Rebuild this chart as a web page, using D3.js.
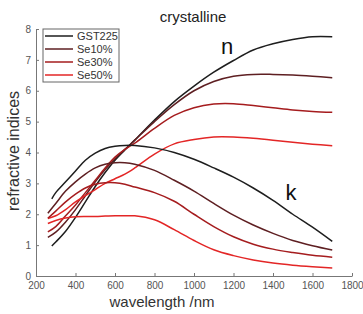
<!DOCTYPE html>
<html>
<head>
<meta charset="utf-8">
<script src="https://cdn.jsdelivr.net/npm/d3@7"></script>
<style>
  body { margin: 0; background: #fff; }
  svg { font-family: "Liberation Sans", Arial, sans-serif; }
</style>
</head>
<body>
<svg width="363" height="314"></svg>
<script>
// series names and colours
var series = ["GST225", "Se10%", "Se30%", "Se50%"];
var colors = ["#1e1e1e", "#5e1f22", "#a51c1e", "#e32626"];

// wavelength grids (nm)
var wl_gst = [280, 300, 350, 400, 450, 500, 550, 600, 650, 700, 800, 900, 1000, 1100, 1200, 1300, 1400, 1500, 1600, 1700];
var wl_se  = [260, 300, 350, 400, 450, 500, 550, 600, 650, 700, 800, 900, 1000, 1100, 1200, 1300, 1400, 1500, 1600, 1700];

// refractive index n
var n_gst  = [0.97, 1.1, 1.45, 1.9, 2.4, 2.9, 3.35, 3.75, 4.08, 4.4, 5.05, 5.65, 6.15, 6.6, 6.98, 7.32, 7.52, 7.66, 7.75, 7.75];
var n_se10 = [1.25, 1.42, 1.75, 2.15, 2.6, 3.05, 3.45, 3.8, 4.1, 4.4, 5.0, 5.55, 6.0, 6.3, 6.47, 6.53, 6.53, 6.51, 6.47, 6.42];
var n_se30 = [1.43, 1.6, 1.95, 2.3, 2.7, 3.1, 3.5, 3.85, 4.1, 4.3, 4.78, 5.2, 5.45, 5.57, 5.58, 5.52, 5.45, 5.38, 5.33, 5.3];
var n_se50 = [1.86, 1.95, 2.15, 2.4, 2.6, 2.8, 3.0, 3.15, 3.3, 3.5, 3.95, 4.28, 4.42, 4.5, 4.5, 4.46, 4.4, 4.33, 4.27, 4.22];

// extinction coefficient k
var k_gst  = [2.5, 2.7, 3.05, 3.4, 3.75, 3.98, 4.13, 4.2, 4.23, 4.23, 4.15, 4.0, 3.78, 3.5, 3.2, 2.85, 2.45, 2.0, 1.58, 1.12];
var k_se10 = [2.03, 2.35, 2.75, 3.05, 3.3, 3.5, 3.62, 3.67, 3.67, 3.62, 3.42, 3.1, 2.75, 2.35, 1.97, 1.65, 1.38, 1.15, 0.98, 0.84];
var k_se30 = [1.87, 2.1, 2.4, 2.65, 2.85, 2.97, 3.02, 3.02, 2.97, 2.88, 2.7, 2.42, 2.0, 1.6, 1.27, 1.03, 0.87, 0.76, 0.67, 0.61];
var k_se50 = [1.7, 1.8, 1.88, 1.92, 1.93, 1.93, 1.94, 1.95, 1.95, 1.95, 1.82, 1.5, 1.15, 0.85, 0.66, 0.52, 0.42, 0.35, 0.3, 0.26];

var x_ticks = [200, 400, 600, 800, 1000, 1200, 1400, 1600, 1800];
var y_ticks = [0, 1, 2, 3, 4, 5, 6, 7, 8];

var svg = d3.select("svg");
var x = d3.scaleLinear().domain([200, 1800]).range([36, 352]);
var y = d3.scaleLinear().domain([0, 8]).range([276, 29]);

var curves = [
  {wl: wl_gst, v: n_gst, c: 0}, {wl: wl_se, v: n_se10, c: 1},
  {wl: wl_se, v: n_se30, c: 2}, {wl: wl_se, v: n_se50, c: 3},
  {wl: wl_gst, v: k_gst, c: 0}, {wl: wl_se, v: k_se10, c: 1},
  {wl: wl_se, v: k_se30, c: 2}, {wl: wl_se, v: k_se50, c: 3}
];

var line = d3.line()
  .x(d => x(d[0]))
  .y(d => y(d[1]))
  .curve(d3.curveCatmullRom.alpha(0.5));

svg.selectAll("path.curve")
  .data(curves)
  .enter().append("path")
  .attr("class", "curve")
  .attr("fill", "none")
  .attr("stroke", d => colors[d.c])
  .attr("stroke-width", 1.5)
  .attr("d", d => line(d.wl.map((w, i) => [w, d.v[i]])));

// axes, ticks pointing inward
var xAxis = svg.append("g")
  .attr("transform", "translate(0," + y(0) + ")")
  .call(d3.axisBottom(x).tickValues(x_ticks).tickFormat(d3.format("d"))
    .tickSizeInner(-3).tickSizeOuter(0).tickPadding(6));
var yAxis = svg.append("g")
  .attr("transform", "translate(" + x(200) + ",0)")
  .call(d3.axisLeft(y).tickValues(y_ticks).tickFormat(d3.format("d"))
    .tickSizeInner(-3).tickSizeOuter(0).tickPadding(5));

[xAxis, yAxis].forEach(function(a) {
  a.select(".domain").attr("stroke", "#777").attr("stroke-width", 1);
  a.selectAll(".tick line").attr("stroke", "#777");
  a.selectAll(".tick text").attr("fill", "#555").style("font-size", "10px")
    .style("font-family", "Liberation Sans, Arial, sans-serif");
});

// titles
svg.append("text").attr("x", 193).attr("y", 22).attr("text-anchor", "middle")
  .style("font-size", "15px").attr("fill", "#222").text("crystalline");
svg.append("text").attr("x", 162).attr("y", 307).attr("text-anchor", "middle")
  .style("font-size", "15px").attr("fill", "#333").text("wavelength /nm");
svg.append("text").attr("transform", "translate(19,151) rotate(-90)").attr("text-anchor", "middle")
  .style("font-size", "16px").attr("fill", "#333").text("refractive indices");

// n / k labels
svg.append("text").attr("x", 227).attr("y", 54).attr("text-anchor", "middle")
  .style("font-size", "22px").attr("fill", "#111").text("n");
svg.append("text").attr("x", 291).attr("y", 200).attr("text-anchor", "middle")
  .style("font-size", "22px").attr("fill", "#111").text("k");

// legend
var lg = svg.append("g");
lg.append("rect").attr("x", 43).attr("y", 29).attr("width", 76).attr("height", 53)
  .attr("fill", "#fff").attr("stroke", "#666");
var rows = lg.selectAll("g.row").data(series).enter().append("g")
  .attr("transform", (d, i) => "translate(0," + (36 + i * 13) + ")");
rows.append("line").attr("x1", 45).attr("x2", 73).attr("y1", 0).attr("y2", 0)
  .attr("stroke", (d, i) => colors[i]).attr("stroke-width", 1.5);
rows.append("text").attr("x", 77).attr("y", 4).style("font-size", "11px")
  .attr("fill", "#333").text(d => d);
</script>
</body>
</html>
